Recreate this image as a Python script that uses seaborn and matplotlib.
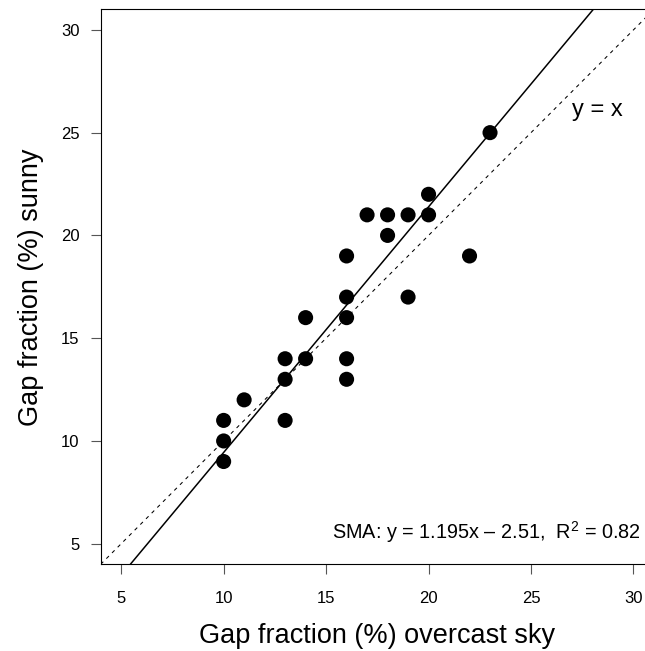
"""Gap fraction: sunny vs overcast sky, with SMA fit and 1:1 line."""
import numpy as np
import pandas as pd
import matplotlib
matplotlib.use("Agg")
import matplotlib.pyplot as plt
import seaborn as sns

# values
overcast = [10, 10, 10, 11, 13, 13, 13, 14, 14, 16, 16, 16, 16, 16,
            17, 18, 18, 19, 19, 20, 20, 22, 23]
sunny = [9, 10, 11, 12, 11, 13, 14, 14, 16, 13, 14, 16, 17, 19,
         21, 20, 21, 17, 21, 21, 22, 19, 25]
sma_slope = 1.195
sma_intercept = -2.51
r2 = 0.82
ticks = [5, 10, 15, 20, 25, 30]

sns.set_style("ticks")
plt.rcParams["font.family"] = ["Liberation Sans", "DejaVu Sans"]
plt.rcParams["mathtext.fontset"] = "custom"
plt.rcParams["mathtext.rm"] = "Liberation Sans"
plt.rcParams["text.color"] = "black"
plt.rcParams["axes.labelcolor"] = "black"

df = pd.DataFrame({"overcast": overcast, "sunny": sunny})

fig = plt.figure(figsize=(6.45, 6.51), dpi=100)
ax = fig.add_axes([0.1561, 0.1332, 0.8578, 0.8525])

sns.scatterplot(data=df, x="overcast", y="sunny", ax=ax, color="black",
                s=118, edgecolor="none", zorder=3)

# 1:1 line and SMA fit
ax.axline((0, 0), slope=1, color="black", lw=0.75, dashes=(3.5, 4.2))
ax.axline((0, sma_intercept), slope=sma_slope, color="black", lw=1.1)

ax.set_xlim(4, 31)
ax.set_ylim(4, 31)
ax.set_xticks(ticks)
ax.set_yticks(ticks)

ax.text(27, 25.8, "y = x", fontsize=17, ha="left", va="baseline")
ax.text(30.35, 5.24,
        f"SMA: y = {sma_slope}x \u2013 {abs(sma_intercept)},  R$^2$ = {r2}",
        fontsize=14.3, ha="right", va="baseline")

for side in ["left", "bottom", "top", "right"]:
    ax.spines[side].set_color("black")
    ax.spines[side].set_linewidth(0.8)

ax.tick_params(axis="both", length=7.2, width=0.8, color="#555555",
               labelsize=12, labelcolor="black")
ax.tick_params(axis="x", pad=12)
ax.tick_params(axis="y", pad=8)

ax.set_xlabel("Gap fraction (%) overcast sky", fontsize=19.5)
ax.set_ylabel("Gap fraction (%) sunny", fontsize=19.5)
ax.xaxis.set_label_coords(0.5, -0.106)
ax.yaxis.set_label_coords(-0.1025, 0.5)

fig.savefig("out.png", dpi=100)
